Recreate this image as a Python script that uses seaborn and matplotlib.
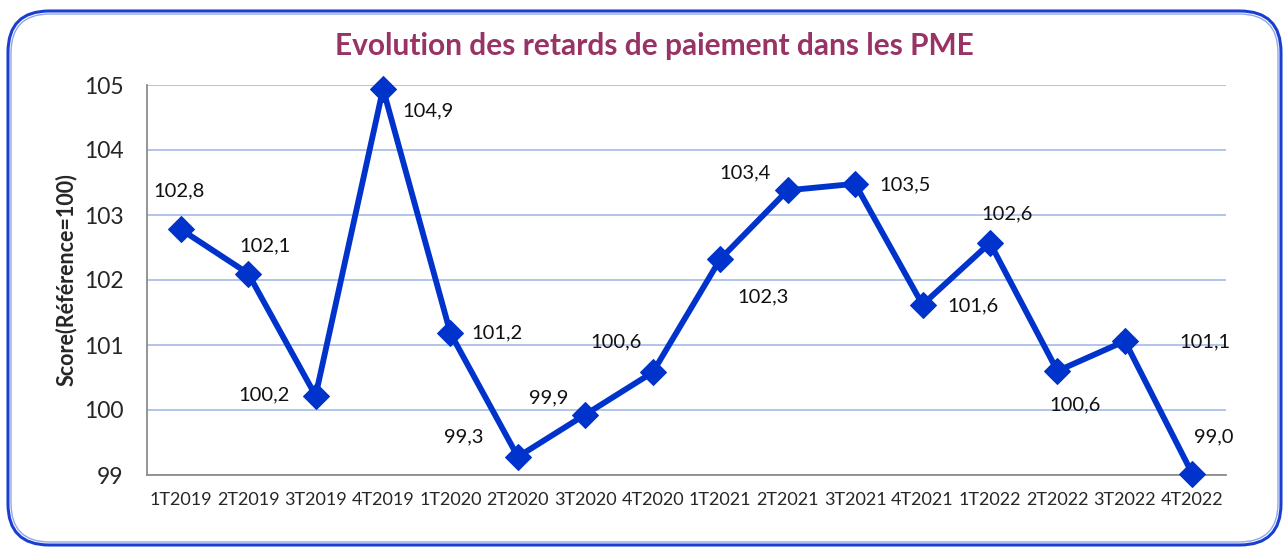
import matplotlib
matplotlib.use("Agg")
import matplotlib.pyplot as plt
from matplotlib.patches import FancyBboxPatch
import seaborn as sns
import pandas as pd

quarters = ["1T2019", "2T2019", "3T2019", "4T2019", "1T2020", "2T2020", "3T2020", "4T2020",
            "1T2021", "2T2021", "3T2021", "4T2021", "1T2022", "2T2022", "3T2022", "4T2022"]
scores = [102.78, 102.1, 100.22, 104.94, 101.18, 99.28, 99.93, 100.58,
          102.32, 103.38, 103.48, 101.62, 102.57, 100.6, 101.06, 99.02]
yticks = [99, 100, 101, 102, 103, 104, 105]
title = "Evolution des retards de paiement dans les PME"
ylabel = "Score(Référence=100)"

# label offsets in pixels (dx, dy)
offsets = [(-2, 38), (17, 28), (-52, 1), (45, -22), (47, 0), (-54, 20), (-37, 17), (-37, 30),
           (43, -38), (-43, 17), (50, -1), (50, -1), (17, 29), (18, -34), (80, -1), (21, 37)]

sns.set_theme(style="white")
plt.rcParams['font.family'] = ['Lato', 'DejaVu Sans']

fig = plt.figure(figsize=(12.86, 5.48), dpi=100)
ax = fig.add_axes([147/1286, 1-475/548, (1226-147)/1286, (475-85)/548])

df = pd.DataFrame({"q": quarters, "s": scores})
sns.lineplot(data=df, x="q", y="s", ax=ax, color="#0033CC", linewidth=4.2,
             marker="D", markersize=13, markeredgecolor="#0033CC", sort=False)
for ln in ax.lines:
    ln.set_clip_on(False)
    ln.set_zorder(5)

ax.set_xlim(-0.5, len(quarters) - 0.5)
ax.set_ylim(99, 105)
ax.set_yticks(yticks)
ax.set_yticklabels([str(t) for t in yticks], fontsize=16.5)
ax.set_xticks(range(len(quarters)))
ax.set_xticklabels(quarters, fontsize=13)
ax.tick_params(axis='x', pad=12, length=0)
ax.tick_params(axis='y', pad=17, length=0)
ax.yaxis.grid(True, color="#a9c0e8", linewidth=1.3)
ax.set_axisbelow(True)
for sp in ["top", "right"]:
    ax.spines[sp].set_visible(False)
for sp in ["left", "bottom"]:
    ax.spines[sp].set_color("#8c8c8c")
    ax.spines[sp].set_linewidth(1.3)
ax.set_xlabel("")
ax.set_ylabel(ylabel, fontsize=15.5, fontweight="bold", labelpad=5)

for i, (v, off) in enumerate(zip(scores, offsets)):
    ax.annotate(f"{v:.1f}".replace(".", ","), (i, v), xytext=off, textcoords="offset pixels",
                ha="center", va="center", fontsize=14.5, color="#111111")

fig.text(0.509, 1-46/548, title, ha="center", va="center", fontsize=21.5,
         fontweight="bold", color="#993366")

box = FancyBboxPatch((8/1286, 3/548), 1273/1286, 534/548,
                     boxstyle="round,pad=0,rounding_size=0.032", transform=fig.transFigure,
                     facecolor="none", edgecolor="#1a3fd0", linewidth=2.2, clip_on=False,
                     mutation_aspect=1286/548)
fig.patches.append(box)
box2 = FancyBboxPatch((11/1286, 6/548), 1267/1286, 528/548,
                      boxstyle="round,pad=0,rounding_size=0.030", transform=fig.transFigure,
                      facecolor="none", edgecolor="#8fa6ea", linewidth=1.0, clip_on=False,
                      mutation_aspect=1286/548)
fig.patches.append(box2)

fig.savefig("out.png", dpi=100)
